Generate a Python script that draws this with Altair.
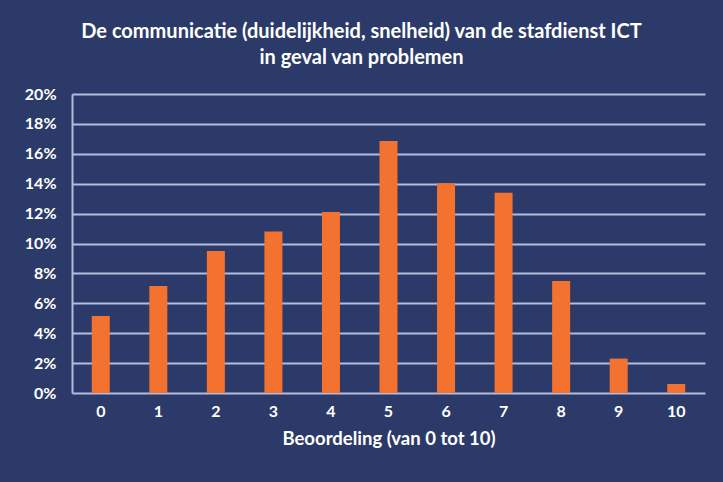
import altair as alt
import pandas as pd

categories = ["0", "1", "2", "3", "4", "5", "6", "7", "8", "9", "10"]
values = [0.0515, 0.0716, 0.095, 0.108, 0.121, 0.1686, 0.1403, 0.134, 0.075, 0.023, 0.006]
y_ticks = [0, 0.02, 0.04, 0.06, 0.08, 0.10, 0.12, 0.14, 0.16, 0.18, 0.20]

df = pd.DataFrame({"score": categories, "share": values})

BG = "#2C3A69"
GRID = "#B4BCDD"
FONT = "Lato"

chart = alt.Chart(df).mark_bar(color="#F47230").encode(
    x=alt.X("score:N", sort=categories,
            scale=alt.Scale(paddingInner=0.687, paddingOuter=0.3435),
            axis=alt.Axis(title="Beoordeling (van 0 tot 10)", labelAngle=0,
                          labelColor="white", labelFont=FONT, labelFontSize=16,
                          labelFontWeight="bold", labelPadding=10,
                          titleColor="white", titleFont=FONT, titleFontSize=18.5,
                          titleFontWeight="bold", titlePadding=10,
                          domain=False, ticks=False, grid=False)),
    y=alt.Y("share:Q", scale=alt.Scale(domain=[0, 0.2], nice=False),
            axis=alt.Axis(title=None, format=".0%", values=y_ticks,
                          labelColor="white", labelFont=FONT, labelFontSize=16,
                          labelFontWeight="bold", labelPadding=16,
                          domain=True, domainColor=GRID, domainWidth=2,
                          ticks=False, grid=True, gridColor=GRID, gridWidth=2)),
).properties(
    width=633, height=299,
    background=BG,
    padding={"left": 72, "top": 94, "right": 18, "bottom": 89},
    autosize=alt.AutoSizeParams(type="none"),
    title=alt.TitleParams(
        text=["De communicatie (duidelijkheid, snelheid) van de stafdienst ICT",
              "in geval van problemen"],
        color="white", font=FONT, fontSize=20, fontWeight="bold",
        anchor="middle", dx=-27, offset=18, lineHeight=26,
    ),
).configure_view(stroke=None)

chart.save("out.html", embed_options={"renderer": "svg", "actions": False})
